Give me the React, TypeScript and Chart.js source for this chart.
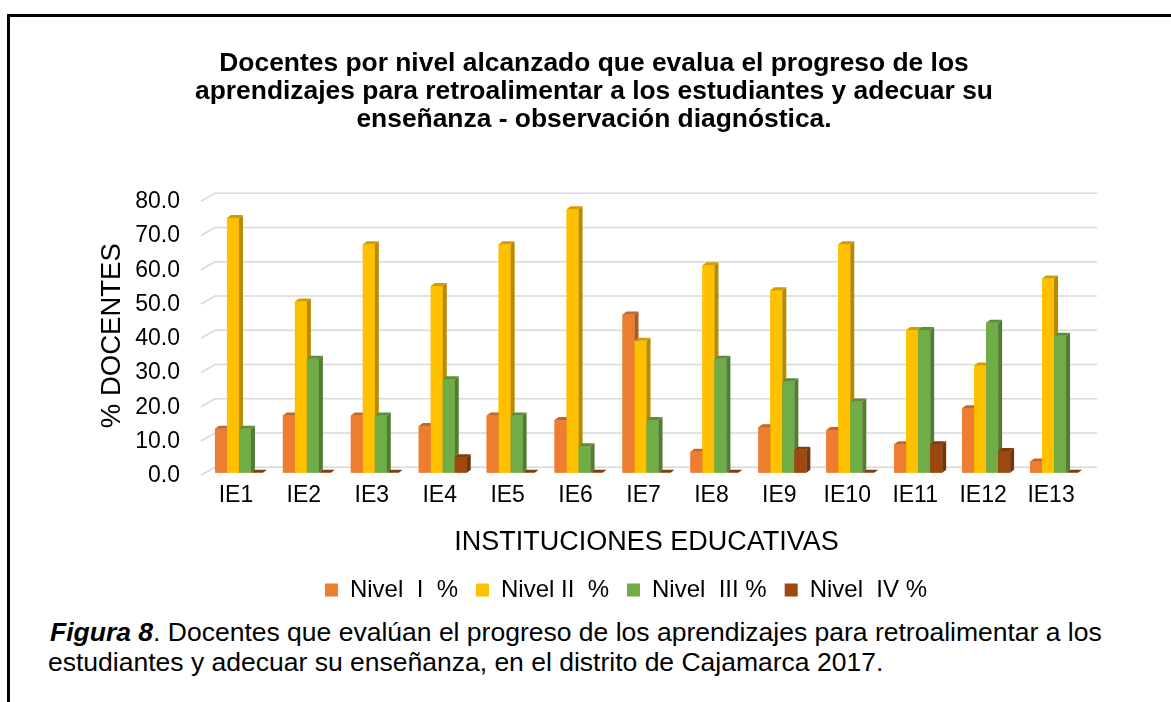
import React, { useEffect, useRef } from "react";
import { Chart, registerables } from "chart.js";

Chart.register(...registerables);

const categories = ["IE1", "IE2", "IE3", "IE4", "IE5", "IE6", "IE7", "IE8", "IE9", "IE10", "IE11", "IE12", "IE13"];
const nivelI = [12.8, 16.7, 16.7, 13.6, 16.7, 15.4, 46.2, 6.1, 13.3, 12.5, 8.3, 18.8, 3.3];
const nivelII = [74.4, 50.0, 66.7, 54.5, 66.7, 76.9, 38.5, 60.6, 53.3, 66.7, 41.7, 31.3, 56.7];
const nivelIII = [12.8, 33.3, 16.7, 27.3, 16.7, 7.7, 15.4, 33.3, 26.7, 20.8, 41.7, 43.8, 40.0];
const nivelIV = [0.0, 0.0, 0.0, 4.5, 0.0, 0.0, 0.0, 0.0, 6.7, 0.0, 8.3, 6.3, 0.0];
const seriesLabels = ["Nivel  I  %", "Nivel II  %", "Nivel  III %", "Nivel  IV %"];
const seriesColors = ["#ED7D31", "#FFC000", "#70AD47", "#9E480E"];
const yMin = 0;
const yMax = 80;
const yStep = 10;

const titleLines = [
  "Docentes por nivel alcanzado que evalua el progreso de los",
  "aprendizajes para retroalimentar a los estudiantes y adecuar su",
  "enseñanza - observación diagnóstica.",
];

const FONT = "'Liberation Sans', Arial, sans-serif";

function shade(hex: string, f: number) {
  const n = parseInt(hex.slice(1), 16);
  const r = Math.round(((n >> 16) & 255) * f);
  const g = Math.round(((n >> 8) & 255) * f);
  const b = Math.round((n & 255) * f);
  return `rgb(${r},${g},${b})`;
}

const DX = 4;
const DY = 3;

const gridPlugin = {
  id: "grid3d",
  beforeDatasetsDraw(chart: any) {
    const { ctx, chartArea } = chart;
    const y = chart.scales.y;
    ctx.save();
    ctx.strokeStyle = "#D9D9D9";
    ctx.lineWidth = 1.6;
    for (let v = yMin; v <= yMax; v += yStep) {
      const py = y.getPixelForValue(v);
      ctx.beginPath();
      ctx.moveTo(chartArea.left - 4, py + 2.5);
      ctx.lineTo(chartArea.left + 10, py - 5.5);
      ctx.lineTo(chartArea.right + 9, py - 5.5);
      ctx.stroke();
    }
    ctx.restore();
  },
};

const bar3dPlugin = {
  id: "bar3d",
  afterDatasetsDraw(chart: any) {
    const ctx = chart.ctx;
    const n = chart.data.labels.length;
    const metas = chart.data.datasets.map((_: any, i: number) => chart.getDatasetMeta(i));
    ctx.save();
    for (let j = 0; j < n; j++) {
      for (let i = 0; i < metas.length; i++) {
        const el = metas[i].data[j];
        if (!el) continue;
        const { x, y, base, width } = el.getProps(["x", "y", "base", "width"], true);
        const l = x - width / 2;
        const r = x + width / 2;
        const c = seriesColors[i];
        ctx.fillStyle = c;
        ctx.fillRect(l, y, width, base - y);
        ctx.fillStyle = shade(c, 0.72);
        ctx.beginPath();
        ctx.moveTo(r, y);
        ctx.lineTo(r + DX, y - DY);
        ctx.lineTo(r + DX, base - DY);
        ctx.lineTo(r, base);
        ctx.closePath();
        ctx.fill();
        ctx.fillStyle = shade(c, 0.82);
        ctx.beginPath();
        ctx.moveTo(l, y);
        ctx.lineTo(l + DX, y - DY);
        ctx.lineTo(r + DX, y - DY);
        ctx.lineTo(r, y);
        ctx.closePath();
        ctx.fill();
      }
    }
    ctx.restore();
  },
};

export default function App() {
  const ref = useRef<HTMLCanvasElement | null>(null);

  useEffect(() => {
    if (!ref.current) return;
    const series = [nivelI, nivelII, nivelIII, nivelIV];
    const chart = new Chart(ref.current, {
      type: "bar",
      data: {
        labels: categories,
        datasets: series.map((d, i) => ({
          label: seriesLabels[i],
          data: d,
          backgroundColor: seriesColors[i],
          borderWidth: 0,
          barPercentage: 1,
          categoryPercentage: 0.7067,
        })),
      },
      options: {
        responsive: false,
        animation: false,
        events: [],
        layout: { padding: { top: 198.7, left: 0, right: 0, bottom: 0 } },
        plugins: {
          title: { display: false },
          tooltip: { enabled: false },
          legend: {
            display: true,
            position: "bottom",
            labels: {
              boxWidth: 13,
              boxHeight: 13,
              padding: 18,
              color: "#000",
              font: { family: FONT, size: 24 },
            },
          },
        },
        scales: {
          x: {
            grid: { display: false },
            border: { display: false },
            ticks: {
              color: "#000",
              font: { family: FONT, size: 23 },
              padding: 1,
              labelOffset: -3,
              maxRotation: 0,
            },
            title: {
              display: true,
              text: "INSTITUCIONES EDUCATIVAS",
              color: "#000",
              font: { family: FONT, size: 27 },
              padding: { top: 0, bottom: 1.5 },
            },
            afterFit(s: any) {
              s.height = 87.3;
            },
          },
          y: {
            min: yMin,
            max: yMax,
            grid: { display: false },
            border: { display: false },
            ticks: {
              stepSize: yStep,
              color: "#000",
              font: { family: FONT, size: 23 },
              padding: 17,
              labelOffset: 3,
              callback: (v: any) => Number(v).toFixed(1),
            },
            title: {
              display: true,
              text: "% DOCENTES",
              color: "#000",
              font: { family: FONT, size: 27.5 },
              padding: { top: 96, bottom: 0 },
            },
            afterFit(s: any) {
              s.width = 205;
            },
          },
          yR: {
            type: "linear",
            position: "right",
            display: true,
            grid: { display: false },
            border: { display: false },
            ticks: { display: false },
            afterFit(s: any) {
              s.width = 164;
            },
          },
        },
      },
      plugins: [gridPlugin, bar3dPlugin],
    } as any);
    return () => chart.destroy();
  }, []);

  return (
    <div
      style={{
        position: "fixed",
        left: 0,
        top: 0,
        width: 1171,
        height: 702,
        overflow: "hidden",
        background: "#fff",
        fontFamily: FONT,
        color: "#000",
      }}
    >
      <div
        style={{
          position: "absolute",
          left: 7,
          top: 14,
          width: 1400,
          height: 900,
          borderLeft: "3px solid #000",
          borderTop: "3px solid #000",
        }}
      />
      <div style={{ position: "absolute", left: 0, top: 0, width: 1252, height: 612 }}>
        <canvas ref={ref} width={1252} height={612} style={{ display: "block", width: 1252, height: 612 }} />
      </div>
      <div
        style={{
          position: "absolute",
          left: 0,
          top: 48,
          width: 1188,
          textAlign: "center",
          fontWeight: "bold",
          fontSize: 26.4,
          lineHeight: "28px",
        }}
      >
        {titleLines.map((t, i) => (
          <div key={i}>{t}</div>
        ))}
      </div>
      <div
        style={{
          position: "absolute",
          left: 48,
          top: 617,
          fontSize: 26.5,
          lineHeight: "30px",
          whiteSpace: "pre",
        }}
      >
        <div style={{ paddingLeft: 2 }}>
          <b>
            <i>Figura 8</i>
          </b>
          . Docentes que evalúan el progreso de los aprendizajes para retroalimentar a los
        </div>
        <div>estudiantes y adecuar su enseñanza, en el distrito de Cajamarca 2017.</div>
      </div>
    </div>
  );
}
